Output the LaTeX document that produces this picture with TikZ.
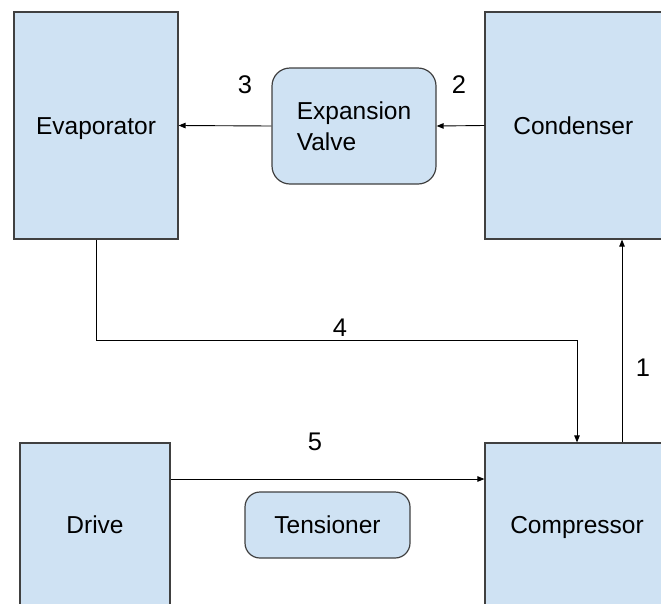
\documentclass[tikz,border=0pt]{standalone}
\usepackage{fontspec}
\setmainfont{Liberation Sans}
\usetikzlibrary{arrows.meta}
\begin{document}
\begin{tikzpicture}[x=1pt,y=-1pt,
  font=\fontsize{24.5}{31}\selectfont,
  unit/.style={draw=black!75, line width=1.2pt, fill=boxblue, inner sep=0pt},
  capbox/.style={text height=17.5pt, text depth=0pt},
  box/.style={unit, rectangle, capbox},
  rbox/.style={unit, rectangle, rounded corners=#1},
  arr/.style={draw=black, line width=0.9pt, -{Triangle[length=7pt,width=5.5pt]}},
  num/.style={inner sep=0pt, font=\fontsize{25.5}{30}\selectfont}]
\definecolor{boxblue}{HTML}{CFE2F3}
\useasboundingbox (0,0) rectangle (661,603);
\node[box, minimum width=164pt, minimum height=227pt] (evap) at (96,125.5) {Evaporator};
\node[rbox=18pt, minimum width=164pt, minimum height=116pt, align=left] (valve) at (354,126) {Expansion\\Valve};
\node[box, minimum width=176.5pt, minimum height=227pt] (cond) at (573.25,125.5) {Condenser};
\node[box, minimum width=150pt, minimum height=164pt] (drive) at (95,525) {Drive};
\node[rbox=15pt, capbox, minimum width=165pt, minimum height=66pt] (tens) at (327.5,525) {Tensioner};
\node[box, minimum width=184pt, minimum height=164pt] (comp) at (577,525) {Compressor};
\coordinate (c4) at (0,340);
\coordinate (c5) at (0,479);
\coordinate (c1) at (622,0);
\draw[arr] (valve.west) -- (evap.east);
\draw[arr] (cond.west) -- (valve.east);
\draw[arr] (evap.south) -- (evap.south |- c4) -| (comp.north);
\draw[arr] (drive.east |- c5) -- (comp.west |- c5);
\draw[arr] (comp.north -| c1) -- (cond.south -| c1);
\node[num] (l3) at (245,85) {3};
\node[num] (l2) at (459,85) {2};
\node[num] (l4) at (340,328) {4};
\node[num] (l5) at (315,442) {5};
\node[num] (l1) at (643,368) {1};
\end{tikzpicture}
\end{document}
